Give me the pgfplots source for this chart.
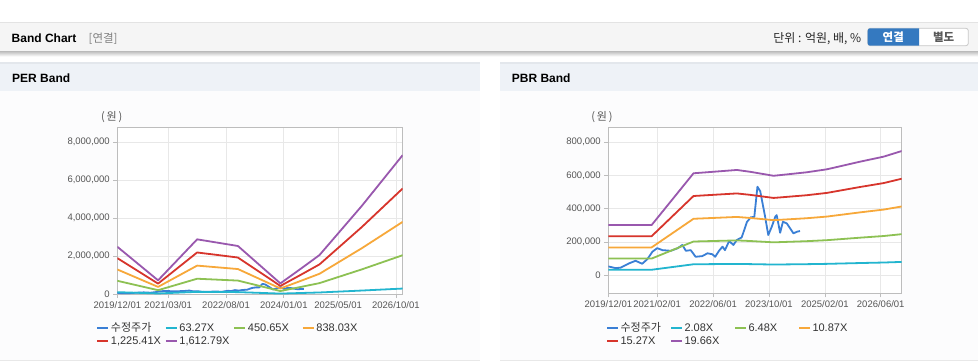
\documentclass[border=0pt]{standalone}
\usepackage{fontspec}
\setmainfont{Liberation Sans}
\newfontfamily\kr{Noto Sans CJK KR}
\usepackage{pgfplots}
\pgfplotsset{compat=1.18}

\definecolor{cprice}{HTML}{3A7FD5}
\definecolor{ccyan}{HTML}{22B5CF}
\definecolor{cgreen}{HTML}{8DC153}
\definecolor{corange}{HTML}{F7A83A}
\definecolor{cred}{HTML}{D7352C}
\definecolor{cpurple}{HTML}{9958AE}
\definecolor{gridc}{HTML}{E8E8E8}
\definecolor{axisc}{HTML}{BDBDBD}
\definecolor{tickc}{HTML}{555555}
\definecolor{hdrbg}{HTML}{F5F5F5}
\definecolor{panelhdr}{HTML}{EEF2F7}
\definecolor{panelline}{HTML}{E3E7EC}
\definecolor{panelbg}{HTML}{FCFCFD}
\definecolor{btnblue}{HTML}{3479C0}

\newcommand\legtxt[2]{\makebox[#1][l]{\rule[-2pt]{0pt}{9.5pt}#2}}

\pgfplotsset{bandaxis/.style={
  scale only axis, xmin=0, xmax=84,
  axis background/.style={fill=white},
  axis line style={axisc, line width=0.8pt},
  grid=major, grid style={gridc, line width=0.6pt},
  tick align=outside, major tick length=4pt,
  tick style={axisc, line width=0.6pt},
  xtick pos=lower, ytick pos=left,
  ticklabel style={font=\fontsize{9.5}{10}\selectfont, text=tickc},
  /pgf/number format/assume math mode=true,
  /pgf/number format/fixed,
  /pgf/number format/precision=0,
  /pgf/number format/1000 sep={,},
  scaled y ticks=false,
  legend columns=4,
  legend cell align=left,
  legend style={draw=none, fill=none, inner sep=0pt,
    font=\fontsize{11}{12}\selectfont, text=black!80,
    nodes={inner sep=1.5pt}, row sep=0.5pt, column sep=0pt},
  legend image code/.code={\draw[##1, line width=2pt] (0pt,0pt) -- (11pt,0pt);},
  every axis plot/.append style={line width=1.8pt, mark=none, line join=round},
}}

\begin{document}
\begin{tikzpicture}[x=1pt,y=1pt]
\useasboundingbox (0,0) rectangle (978,362);
\fill[white] (0,0) rectangle (978,362);
% top header bar
\fill[hdrbg] (0,310) rectangle (978,340);
\shade[top color=black!22, bottom color=white] (0,305.5) rectangle (978,310);
\draw[black!11, line width=1.2pt] (0,339.4) -- (978,339.4);
% panels
\foreach \xa/\xb in {0/480, 500/978}{
  \fill[panelbg] (\xa,1) rectangle (\xb,271);
  \fill[panelhdr] (\xa,271) rectangle (\xb,300);
  \fill[panelline] (\xa,298.3) rectangle (\xb,300);
  \draw[black!9, line width=0.8pt] (\xa,1.5) -- (\xb,1.5);
}
% header texts
\node[anchor=west, inner sep=0pt, font=\fontsize{12}{14}\selectfont\bfseries] at (11.5,323.7) {Band Chart};
\node[anchor=west, inner sep=0pt, font=\fontsize{11.5}{14}\selectfont\kr, text=black!50] at (88.5,323.7) {[연결]};
\node[anchor=east, inner sep=0pt, font=\fontsize{12}{14}\selectfont\kr, text=black!85] at (861.5,323.7) {단위 : 억원, 배, \%};
% buttons
\fill[white, draw=black!22, line width=0.8pt, rounded corners=2.5pt] (867.7,316.3) rectangle (968.3,333.7);
\fill[btnblue] (919,333.7) [rounded corners=2.5pt] -- (867.7,333.7) -- (867.7,316.3) [sharp corners] -- (919,316.3) -- cycle;
\node[inner sep=0pt, font=\fontsize{11.5}{14}\selectfont\kr\bfseries, text=white] at (893.3,325) {연결};
\node[inner sep=0pt, font=\fontsize{11.5}{14}\selectfont\kr\bfseries, text=black!65] at (943.7,325) {별도};
% panel titles
\node[anchor=west, inner sep=0pt, font=\fontsize{12}{14}\selectfont\bfseries] at (12,283.7) {PER Band};
\node[anchor=west, inner sep=0pt, font=\fontsize{12}{14}\selectfont\bfseries] at (511.7,283.7) {PBR Band};
% unit labels
\node[inner sep=0pt, font=\fontsize{11}{12}\selectfont\kr, text=tickc] at (111.7,245.3) {(\,원\,)};
\node[inner sep=0pt, font=\fontsize{11}{12}\selectfont\kr, text=tickc] at (602,245) {(\,원\,)};

% ---------------- PER Band ----------------
\begin{axis}[bandaxis, at={(117.3pt,68pt)}, anchor=south west,
  width=285.4pt, height=167pt,
  ymin=0, ymax=8800000,
  ytick={0,2000000,4000000,6000000,8000000},
  xtick={0,15,32,49,65,82},
  xticklabels={2019/12/01,2021/03/01,2022/08/01,2024/01/01,2025/05/01,2026/10/01},
  legend style={at={(-0.0739,-0.162)}, anchor=north west}]
\addplot[cprice] coordinates {(0,52000)(2,42000)(3.5,44000)(5.9,70000)(7.8,86000)(9.7,68000)(11.2,96000)(12.6,140000)(14,162000)(15.5,150000)(17.9,146000)(19.8,161000)(21.2,181000)(22.2,146000)(23.6,150000)(25,110000)(26.9,114000)(28.4,131000)(29.8,125000)(30.6,110000)(31.7,146000)(32.7,171000)(33.4,150000)(34.6,205000)(35.8,181000)(36.8,211000)(38.2,227000)(39.7,320000)(40.8,348000)(41.8,350000)(42.7,532000)(43.5,505000)(44.9,351000)(45.8,241000)(46.8,291000)(47.8,351000)(48.2,361000)(49.2,255000)(50,321000)(51.1,311000)(53,251000)(54,261000)(54.9,265000)};
\addlegendentry{\legtxt{52.5pt}{\kr 수정주가}}
\addplot[ccyan] coordinates {(0,97700)(12,28200)(23.5,113000)(29,106700)(35.5,99300)(48,22000)(54,52200)(59.5,80400)(72,182400)(84,287200)};
\addlegendentry{\legtxt{52.5pt}{63.27X}}
\addplot[cgreen] coordinates {(0,696000)(12,201000)(23.5,805000)(29,760000)(35.5,707000)(48,156000)(54,372000)(59.5,573000)(72,1299000)(84,2045000)};
\addlegendentry{\legtxt{52.5pt}{450.65X}}
\addplot[corange] coordinates {(0,1294000)(12,374000)(23.5,1496000)(29,1413000)(35.5,1315000)(48,291000)(54,691000)(59.5,1065000)(72,2416000)(84,3803000)};
\addlegendentry{\legtxt{52.5pt}{838.03X}}
\addplot[cred] coordinates {(0,1892000)(12,547000)(23.5,2188000)(29,2067000)(35.5,1922000)(48,425000)(54,1011000)(59.5,1558000)(72,3533000)(84,5562000)};
\addlegendentry{\legtxt{52.5pt}{1,225.41X}}
\addplot[cpurple] coordinates {(0,2490000)(12,720000)(23.5,2880000)(29,2720000)(35.5,2530000)(48,560000)(54,1330000)(59.5,2050000)(72,4650000)(84,7320000)};
\addlegendentry{\legtxt{52.5pt}{1,612.79X}}
\end{axis}

% ---------------- PBR Band ----------------
\begin{axis}[bandaxis, at={(608.3pt,68.7pt)}, anchor=south west,
  width=293.4pt, height=166pt,
  ymin=-110000, ymax=890000,
  ytick={0,200000,400000,600000,800000},
  xtick={0,14,30,46,62,78},
  xticklabels={2019/12/01,2021/02/01,2022/06/01,2023/10/01,2025/02/01,2026/06/01},
  legend style={at={(-0.0085,-0.1672)}, anchor=north west}]
\addplot[cprice] coordinates {(0,52000)(2,42000)(3.5,44000)(5.9,70000)(7.8,86000)(9.7,68000)(11.2,96000)(12.6,140000)(14,162000)(15.5,150000)(17.9,146000)(19.8,161000)(21.2,181000)(22.2,146000)(23.6,150000)(25,110000)(26.9,114000)(28.4,131000)(29.8,125000)(30.6,110000)(31.7,146000)(32.7,171000)(33.4,150000)(34.6,205000)(35.8,181000)(36.8,211000)(38.2,227000)(39.7,320000)(40.8,348000)(41.8,350000)(42.7,532000)(43.5,505000)(44.9,351000)(45.8,241000)(46.8,291000)(47.8,351000)(48.2,361000)(49.2,255000)(50,321000)(51.1,311000)(53,251000)(54,261000)(54.9,265000)};
\addlegendentry{\legtxt{48pt}{\kr 수정주가}}
\addplot[ccyan] coordinates {(0,31800)(12.4,31800)(24.4,64900)(30,65800)(36.8,67000)(40.6,65800)(47.3,63300)(49.2,63700)(56.8,65500)(62.6,67400)(72.1,72300)(78.8,75400)(84,79000)};
\addlegendentry{\legtxt{48pt}{2.08X}}
\addplot[cgreen] coordinates {(0,99200)(12.4,99200)(24.4,202000)(30,205000)(36.8,208600)(40.6,205000)(47.3,197100)(49.2,198400)(56.8,204000)(62.6,210000)(72.1,225100)(78.8,235000)(84,246200)};
\addlegendentry{\legtxt{48pt}{6.48X}}
\addplot[corange] coordinates {(0,166400)(12.4,166400)(24.4,338900)(30,343900)(36.8,350000)(40.6,343900)(47.3,330600)(49.2,332800)(56.8,342200)(62.6,352200)(72.1,377600)(78.8,394200)(84,413000)};
\addlegendentry{\legtxt{48pt}{10.87X}}
\addplot[cred] coordinates {(0,233800)(12.4,233800)(24.4,476100)(30,483100)(36.8,491600)(40.6,483100)(47.3,464500)(49.2,467600)(56.8,480800)(62.6,494800)(72.1,530500)(78.8,553800)(84,580200)};
\addlegendentry{\legtxt{48pt}{15.27X}}
\addplot[cpurple] coordinates {(0,301000)(12.4,301000)(24.4,613000)(30,622000)(36.8,633000)(40.6,622000)(47.3,598000)(49.2,602000)(56.8,619000)(62.6,637000)(72.1,683000)(78.8,713000)(84,747000)};
\addlegendentry{\legtxt{48pt}{19.66X}}
\end{axis}
\end{tikzpicture}
\end{document}
